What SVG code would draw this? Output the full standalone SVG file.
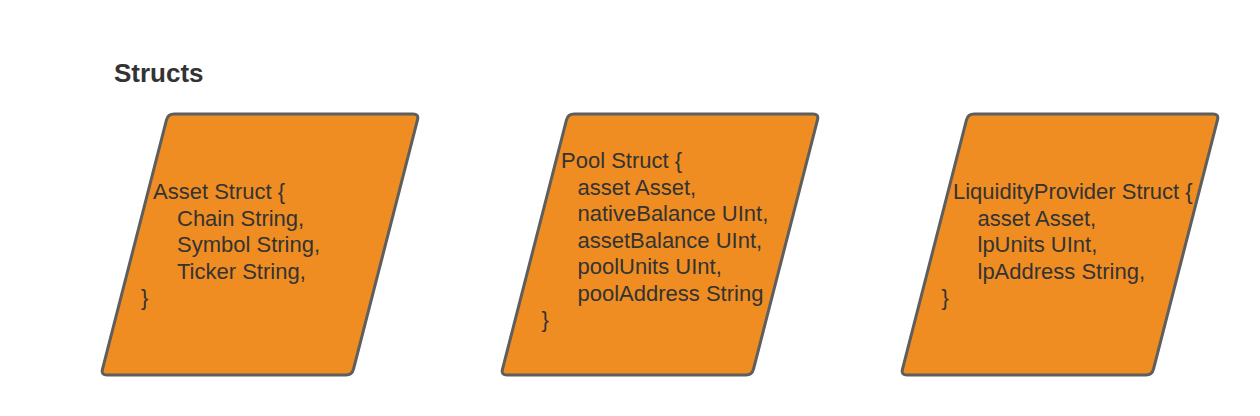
<svg xmlns="http://www.w3.org/2000/svg" xmlns:xlink="http://www.w3.org/1999/xlink" width="1260" height="416" viewBox="0 0 1260 416">
  <style>
    .shape { fill: #EF8D22; stroke: #5E5E5E; stroke-width: 3; stroke-linejoin: round; }
    .t { font-family: "Liberation Sans", Arial, sans-serif; font-size: 22px; fill: #333333; }
    .title { font-family: "Liberation Sans", Arial, sans-serif; font-size: 26px; font-weight: bold; fill: #333333; }
  </style>
  <defs>
    <path id="para" d="M 174,114 L 413,114 Q 419,114 417.5,119.8 L 353.5,369.2 Q 352,375 346,375 L 107,375 Q 101,375 102.5,369.2 L 166.5,119.8 Q 168,114 174,114 Z"/>
  </defs>
  <rect width="1260" height="416" fill="#FFFFFF"/>
  <text class="title" x="114" y="82">Structs</text>
  <g id="connectors"></g>
  <g id="asset-struct">
    <use xlink:href="#para" href="#para" class="shape"/>
    <text class="t" x="153" y="199">Asset Struct {</text>
    <text class="t" x="177" y="225.5">Chain String,</text>
    <text class="t" x="177" y="252">Symbol String,</text>
    <text class="t" x="177" y="278.5">Ticker String,</text>
    <text class="t" x="141" y="305">}</text>
  </g>
  <g id="pool-struct">
    <use xlink:href="#para" href="#para" class="shape" x="400"/>
    <text class="t" x="561" y="168">Pool Struct {</text>
    <text class="t" x="577.5" y="194.5">asset Asset,</text>
    <text class="t" x="577.5" y="221">nativeBalance UInt,</text>
    <text class="t" x="577.5" y="247.5">assetBalance UInt,</text>
    <text class="t" x="577.5" y="274">poolUnits UInt,</text>
    <text class="t" x="577.5" y="300.5">poolAddress String</text>
    <text class="t" x="541.5" y="327">}</text>
  </g>
  <g id="liquidity-provider-struct">
    <use xlink:href="#para" href="#para" class="shape" x="800"/>
    <text class="t" x="953" y="199">LiquidityProvider Struct {</text>
    <text class="t" x="977.5" y="225.5">asset Asset,</text>
    <text class="t" x="977.5" y="252">lpUnits UInt,</text>
    <text class="t" x="977.5" y="278.5">lpAddress String,</text>
    <text class="t" x="941.5" y="305">}</text>
  </g>
</svg>
